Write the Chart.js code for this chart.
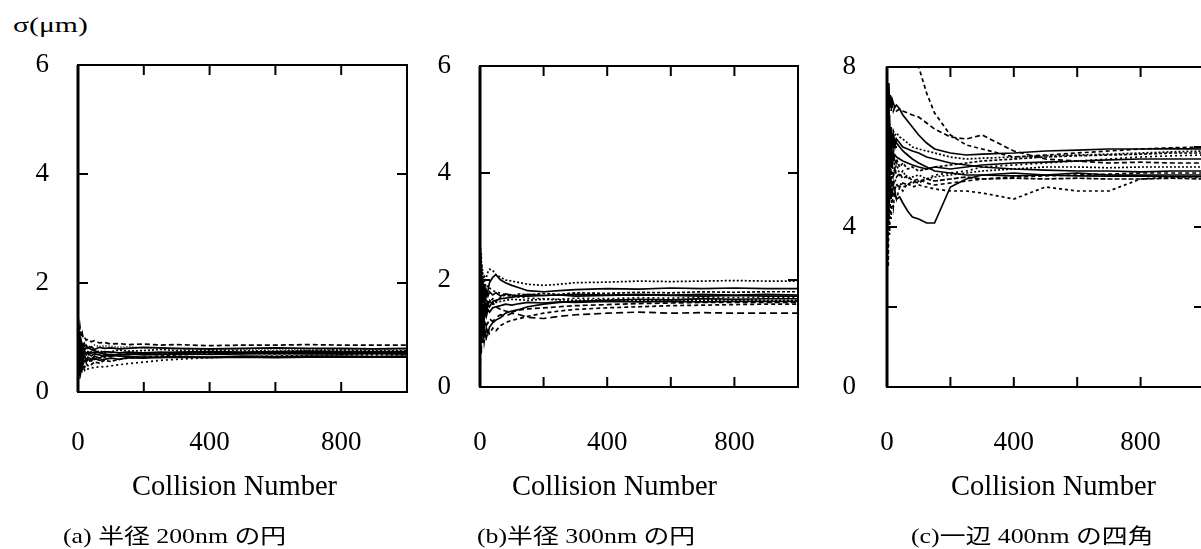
<!DOCTYPE html>
<html>
<head>
<meta charset="utf-8">
<script src="https://cdn.jsdelivr.net/npm/chart.js@4.4.1/dist/chart.umd.min.js"></script>
<style>
  html, body { margin: 0; padding: 0; background: #fff; }
  body { position: relative; width: 1201px; height: 549px; overflow: hidden; }
  .box { position: absolute; top: 0; }
  .txt { position: absolute; color: #000; white-space: nowrap; line-height: 1;
         font-family: 'Liberation Serif', 'Noto Sans CJK JP', serif; transform-origin: left top; }
  .xt { top: 472px; font-size: 28.5px; }
  .cap { top: 526px; font-size: 21px; transform: scaleX(1.23); }
</style>
</head>
<body>
<div class="txt" style="left:13px;top:14px;font-size:22px;transform:scaleX(1.35)">σ(μm)</div>

<div class="box" style="left:0;width:440px;height:549px"><canvas id="chartA" width="440" height="549"></canvas></div>
<div class="box" style="left:420px;width:420px;height:549px"><canvas id="chartB" width="420" height="549"></canvas></div>
<div class="box" style="left:820px;width:420px;height:549px"><canvas id="chartC" width="420" height="549"></canvas></div>

<div class="txt xt" id="titleA" style="left:132px"></div>
<div class="txt xt" id="titleB" style="left:512px"></div>
<div class="txt xt" id="titleC" style="left:951px"></div>

<div class="txt cap" id="capA" style="left:63px"></div>
<div class="txt cap" id="capB" style="left:477px"></div>
<div class="txt cap" id="capC" style="left:911px"></div>

<script>
'use strict';

// panel captions and axis texts
const captions = ['(a) 半径 200nm の円', '(b)半径 300nm の円', '(c)一辺 400nm の四角'];
const xTitle = 'Collision Number';

// collision numbers where each run was sampled
const collisions = [0, 2, 4, 6, 8, 10, 13, 16, 20, 25, 30, 40, 50, 65, 80, 100, 125, 150, 200, 250, 300, 400, 500, 600, 700, 800, 900, 1000];

// tick labels
const xTickLabels = [0, 400, 800];
const yTickLabelsAB = [0, 2, 4, 6];
const yTickLabelsC = [0, 4, 8];

// (a) radius 200nm circle, sigma in um
const sigmaA = [
  [0.90,1.15,1.05,1.20,1.10,1.02,1.08,0.98,1.00,0.95,0.97,0.92,0.94,0.90,0.91,0.88,0.89,0.87,0.88,0.86,0.87,0.85,0.86,0.86,0.87,0.86,0.86,0.86],
  [0.40,0.95,0.70,1.05,0.85,0.92,0.80,0.88,0.84,0.86,0.80,0.83,0.78,0.82,0.80,0.81,0.79,0.80,0.82,0.81,0.80,0.79,0.80,0.81,0.80,0.80,0.79,0.80],
  [0.00,0.60,0.30,0.75,0.50,0.68,0.58,0.72,0.62,0.70,0.66,0.74,0.70,0.76,0.72,0.74,0.77,0.75,0.76,0.78,0.76,0.77,0.76,0.75,0.76,0.77,0.76,0.76],
  [0.80,0.50,0.90,0.62,0.78,0.55,0.70,0.60,0.66,0.58,0.64,0.60,0.66,0.62,0.68,0.65,0.70,0.68,0.71,0.72,0.73,0.74,0.73,0.74,0.75,0.74,0.74,0.74],
  [0.20,0.85,0.45,0.65,0.35,0.55,0.42,0.50,0.45,0.52,0.48,0.50,0.55,0.53,0.58,0.56,0.60,0.62,0.64,0.66,0.68,0.70,0.71,0.72,0.72,0.71,0.72,0.72],
  [1.00,0.70,0.55,0.82,0.66,0.76,0.62,0.70,0.74,0.68,0.72,0.66,0.70,0.68,0.66,0.69,0.67,0.70,0.68,0.69,0.70,0.69,0.70,0.71,0.70,0.70,0.71,0.70],
  [0.10,0.45,0.25,0.50,0.35,0.42,0.38,0.46,0.40,0.44,0.42,0.45,0.44,0.47,0.46,0.48,0.50,0.52,0.55,0.58,0.60,0.63,0.65,0.66,0.67,0.68,0.68,0.68],
  [0.60,0.30,0.75,0.40,0.60,0.48,0.62,0.52,0.58,0.55,0.60,0.57,0.62,0.58,0.60,0.62,0.60,0.63,0.62,0.64,0.65,0.64,0.66,0.65,0.66,0.66,0.65,0.66],
  [0.50,1.00,0.80,0.90,0.72,0.80,0.76,0.82,0.78,0.80,0.82,0.78,0.76,0.72,0.70,0.68,0.66,0.65,0.64,0.63,0.64,0.63,0.64,0.63,0.64,0.64,0.64,0.64],
  [0.70,0.90,0.60,0.80,0.95,0.70,0.85,0.75,0.88,0.80,0.85,0.82,0.86,0.83,0.85,0.84,0.82,0.83,0.81,0.80,0.79,0.78,0.78,0.79,0.78,0.78,0.78,0.78],
  [1.20,0.65,0.95,0.55,0.85,0.62,0.80,0.66,0.76,0.70,0.74,0.71,0.73,0.72,0.74,0.73,0.72,0.73,0.72,0.73,0.72,0.73,0.72,0.73,0.72,0.73,0.72,0.73],
  [0.30,0.75,0.50,0.70,0.45,0.62,0.52,0.58,0.55,0.60,0.56,0.58,0.60,0.62,0.64,0.66,0.68,0.69,0.70,0.71,0.71,0.72,0.71,0.70,0.71,0.70,0.71,0.70]
];

// (b) radius 300nm circle
const sigmaB = [
  [2.90,1.80,2.50,1.60,2.20,1.90,2.10,2.00,2.05,2.15,2.20,2.18,2.10,2.05,2.00,1.98,1.95,1.92,1.90,1.92,1.95,1.96,1.98,1.97,1.98,1.99,1.98,1.98],
  [0.00,1.20,0.60,1.50,1.00,1.30,1.10,1.25,1.15,1.20,1.28,1.22,1.30,1.35,1.32,1.38,1.35,1.30,1.28,1.32,1.35,1.38,1.40,1.38,1.39,1.38,1.38,1.38],
  [2.40,1.50,2.00,1.70,1.90,1.60,1.75,1.85,1.70,1.80,1.95,2.05,2.10,2.00,1.95,1.90,1.85,1.80,1.78,1.80,1.82,1.84,1.83,1.85,1.84,1.85,1.84,1.84],
  [1.00,2.20,1.40,1.80,1.30,1.60,1.45,1.55,1.50,1.62,1.58,1.65,1.60,1.68,1.72,1.70,1.74,1.72,1.75,1.73,1.76,1.75,1.77,1.76,1.78,1.77,1.78,1.78],
  [1.60,0.80,1.30,1.00,1.20,0.90,1.05,0.95,1.10,1.00,1.12,1.20,1.25,1.30,1.38,1.42,1.45,1.50,1.55,1.58,1.60,1.62,1.64,1.63,1.65,1.64,1.65,1.65],
  [2.00,2.60,1.70,2.30,1.80,2.00,1.85,1.95,1.80,1.90,1.85,1.80,1.78,1.75,1.72,1.70,1.68,1.66,1.65,1.64,1.66,1.65,1.67,1.66,1.68,1.67,1.68,1.68],
  [1.30,1.70,1.00,1.40,1.15,1.35,1.25,1.40,1.32,1.45,1.40,1.48,1.50,1.52,1.55,1.53,1.56,1.58,1.57,1.59,1.58,1.60,1.59,1.60,1.59,1.60,1.60,1.60],
  [0.40,1.40,0.90,1.20,0.80,1.05,0.85,1.00,0.92,1.05,1.00,1.10,1.05,1.15,1.20,1.25,1.28,1.32,1.38,1.42,1.45,1.48,1.50,1.52,1.53,1.54,1.55,1.55],
  [2.20,1.90,1.50,1.75,2.00,1.70,1.90,1.65,1.80,1.70,1.78,1.72,1.76,1.70,1.74,1.72,1.70,1.73,1.71,1.72,1.73,1.72,1.73,1.72,1.73,1.72,1.73,1.72],
  [1.80,1.10,1.60,1.30,1.50,1.40,1.55,1.45,1.60,1.50,1.55,1.58,1.50,1.45,1.42,1.40,1.44,1.46,1.48,1.50,1.52,1.54,1.56,1.57,1.58,1.58,1.58,1.58],
  [0.80,1.90,1.20,1.70,1.10,1.50,1.30,1.60,1.40,1.55,1.50,1.60,1.62,1.65,1.66,1.68,1.70,1.70,1.71,1.72,1.70,1.71,1.72,1.71,1.70,1.71,1.70,1.70],
  [2.60,1.40,2.10,1.50,1.80,1.45,1.70,1.60,1.65,1.55,1.62,1.55,1.58,1.60,1.62,1.64,1.63,1.62,1.64,1.63,1.62,1.63,1.62,1.63,1.62,1.63,1.62,1.62]
];

// (c) 400nm square
const sigmaC = [
  [7.50,9.00,10.0,10.5,10.6,10.5,10.3,10.1,9.90,9.60,9.40,9.00,8.80,8.50,8.25,8.00,7.35,6.85,6.30,6.05,5.95,5.75,5.80,5.85,5.90,5.95,5.98,6.00],
  [6.50,7.20,6.80,7.40,7.00,7.20,6.90,7.10,6.90,7.00,6.90,6.95,6.90,6.85,6.80,6.75,6.60,6.45,6.25,6.20,6.30,5.90,5.70,5.65,5.60,5.62,5.60,5.60],
  [3.50,5.00,4.20,5.20,4.60,5.00,4.70,4.90,4.80,4.85,4.70,4.75,4.60,4.40,4.25,4.20,4.10,4.10,5.00,5.20,5.30,5.35,5.30,5.35,5.30,5.30,5.30,5.30],
  [2.00,4.50,3.00,4.80,3.80,4.60,4.20,4.80,4.50,4.90,4.70,5.00,4.90,5.10,5.00,5.05,5.00,4.95,4.90,4.90,4.85,4.70,5.00,4.90,4.90,5.20,5.25,5.25],
  [5.00,7.50,6.50,7.60,7.00,7.30,7.00,7.20,7.10,7.00,7.05,6.95,6.80,6.65,6.50,6.30,6.10,5.95,5.85,5.80,5.82,5.85,5.90,5.92,5.95,5.95,5.96,5.95],
  [4.00,6.00,5.20,6.40,5.50,6.00,5.60,5.90,5.70,5.80,5.75,5.70,5.65,5.60,5.55,5.50,5.45,5.50,5.45,5.50,5.55,5.60,5.62,5.65,5.68,5.70,5.70,5.70],
  [6.00,5.00,6.80,5.40,6.20,5.60,6.00,5.50,5.80,5.40,5.60,5.30,5.40,5.20,5.25,5.30,5.20,5.25,5.30,5.35,5.40,5.45,5.50,5.50,5.48,5.50,5.50,5.50],
  [3.00,5.50,4.50,5.60,5.00,5.40,5.10,5.30,5.00,5.20,5.05,5.10,5.00,5.05,5.10,5.15,5.20,5.30,5.35,5.40,5.50,5.55,5.60,5.65,5.70,5.75,5.78,5.80],
  [7.00,5.80,7.20,6.20,6.80,6.00,6.50,6.10,6.30,6.00,6.20,6.10,6.00,5.95,5.90,5.85,5.75,5.70,5.60,5.55,5.50,5.45,5.42,5.40,5.40,5.38,5.40,5.40],
  [5.50,4.20,5.80,4.60,5.30,4.80,5.20,4.90,5.10,4.95,5.05,5.00,5.10,5.05,5.15,5.10,5.20,5.15,5.20,5.25,5.20,5.22,5.20,5.22,5.20,5.20,5.22,5.20],
  [4.50,6.50,5.00,6.80,5.80,6.20,5.90,6.30,6.00,6.20,6.10,6.00,5.90,5.80,5.70,5.60,5.50,5.40,5.35,5.30,5.30,5.28,5.30,5.28,5.27,5.28,5.26,5.26],
  [6.80,4.80,6.00,5.00,6.50,5.30,6.10,5.50,5.90,5.60,5.70,5.50,5.60,5.45,5.50,5.40,5.45,5.50,5.55,5.60,5.65,5.70,5.75,5.78,5.80,5.82,5.85,5.85],
  [5.20,6.80,4.80,6.20,5.00,5.80,5.20,5.60,5.30,5.50,5.25,5.35,5.20,5.30,5.15,5.20,5.10,5.05,5.10,5.15,5.20,5.25,5.28,5.30,5.32,5.35,5.35,5.35],
  [7.80,6.50,7.00,6.00,6.60,6.30,6.50,6.20,6.40,6.30,6.35,6.25,6.20,6.10,6.00,5.95,5.90,5.85,5.75,5.70,5.72,5.75,5.78,5.80,5.82,5.85,5.88,5.90]
];

// line style of each run, per panel
const dashA = [[5, 3], [], [2, 2], [], [4, 2], [], [2, 3], [], [], [1, 2], [], [3, 2]];
const dashB = [[2, 2], [7, 4], [], [3, 2], [], [2, 3], [], [4, 3], [], [5, 3], [], [2, 2]];
const dashC = [[4, 3], [5, 3], [], [3, 3], [], [], [2, 2], [2, 3], [], [5, 2], [], [3, 2], [4, 3], [2, 2]];
const TICK_LEN = 10;

// frame round the plot with inward ticks on all four sides
const frameTicks = {
  id: 'frameTicks',
  afterDatasetsDraw(chart) {
    const { ctx, chartArea: a, scales: { x, y } } = chart;
    ctx.save();
    ctx.strokeStyle = '#000';
    ctx.lineWidth = 2;
    ctx.strokeRect(a.left, a.top, a.right - a.left, a.bottom - a.top);
    ctx.lineWidth = 3;
    ctx.beginPath();
    ctx.moveTo(a.left, a.top);
    ctx.lineTo(a.left, a.bottom);
    ctx.stroke();
    ctx.lineWidth = 2;
    ctx.beginPath();
    x.ticks.forEach(t => {
      if (t.value <= x.min || t.value >= x.max) return;
      const px = x.getPixelForValue(t.value);
      ctx.moveTo(px, a.bottom); ctx.lineTo(px, a.bottom - TICK_LEN);
      ctx.moveTo(px, a.top); ctx.lineTo(px, a.top + TICK_LEN);
    });
    y.ticks.forEach(t => {
      if (t.value <= y.min || t.value >= y.max) return;
      const py = y.getPixelForValue(t.value);
      ctx.moveTo(a.left, py); ctx.lineTo(a.left + TICK_LEN, py);
      ctx.moveTo(a.right, py); ctx.lineTo(a.right - TICK_LEN, py);
    });
    ctx.stroke();
    ctx.restore();
  }
};

Chart.defaults.font.family = "'Liberation Serif', serif";
Chart.defaults.font.size = 27;
Chart.defaults.color = '#000';

function makePanel(id, runs, dashes, yMax, yLabels, box) {
  const datasets = runs.map((run, i) => ({
    data: collisions.map((c, j) => ({ x: c, y: run[j] })),
    borderColor: '#000',
    borderWidth: 1.7,
    borderDash: dashes[i],
    pointRadius: 0,
    tension: 0,
    fill: false
  }));

  return new Chart(document.getElementById(id), {
    type: 'line',
    data: { datasets },
    plugins: [frameTicks],
    options: {
      responsive: false,
      animation: false,
      events: [],
      layout: { padding: { top: box.top, right: box.right, left: 0, bottom: 0 } },
      plugins: { legend: { display: false }, tooltip: { enabled: false } },
      scales: {
        x: {
          type: 'linear',
          min: 0,
          max: 1000,
          grid: { display: false },
          border: { display: false },
          ticks: {
            stepSize: 200,
            autoSkip: false,
            maxRotation: 0,
            padding: box.xPad,
            callback: v => xTickLabels.includes(v) ? String(v) : ''
          },
          afterFit: s => { s.height = box.xHeight; }
        },
        y: {
          min: 0,
          max: yMax,
          grid: { display: false },
          border: { display: false },
          ticks: {
            stepSize: 2,
            autoSkip: false,
            padding: box.yPad,
            callback: v => yLabels.includes(v) ? String(v) : ''
          },
          afterFit: s => { s.width = box.yWidth; }
        }
      }
    }
  });
}

makePanel('chartA', sigmaA, dashA, 6, yTickLabelsAB, { top: 65, right: 33, yWidth: 78, xHeight: 157, xPad: 27, yPad: 21 });
makePanel('chartB', sigmaB, dashB, 6, yTickLabelsAB, { top: 66, right: 42, yWidth: 60, xHeight: 162, xPad: 32, yPad: 21 });
makePanel('chartC', sigmaC, dashC, 8, yTickLabelsC, { top: 67, right: 36, yWidth: 67, xHeight: 162, xPad: 32, yPad: 23 });

['A', 'B', 'C'].forEach((k, i) => {
  document.getElementById('title' + k).textContent = xTitle;
  document.getElementById('cap' + k).textContent = captions[i];
});
</script>
</body>
</html>
